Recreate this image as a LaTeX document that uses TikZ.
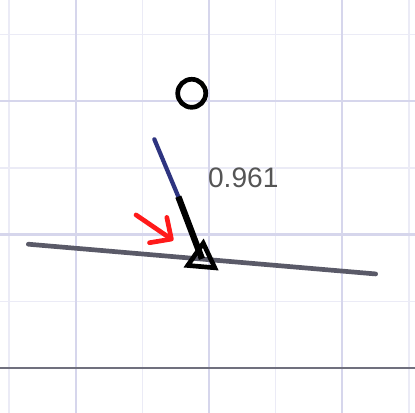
\documentclass[tikz,border=0pt]{standalone}
\usepackage{fontspec}
\setmainfont{Liberation Sans}
\usepackage{xcolor}
\usetikzlibrary{arrows.meta,shapes.geometric}
\definecolor{gridminor}{HTML}{EBEBF6}
\definecolor{gridmajor}{HTML}{D6D6EC}
\definecolor{axisgray}{HTML}{70707E}
\definecolor{surfacegray}{HTML}{5A5A68}
\definecolor{rayblue}{HTML}{2E3480}
\definecolor{labelgray}{HTML}{555555}
\definecolor{hintred}{HTML}{FF1A1A}

\begin{document}
\begin{tikzpicture}[
  minorgrid/.style={draw=gridminor, line width=0.6pt},
  majorgrid/.style={draw=gridmajor, line width=0.9pt},
  axisline/.style={draw=axisgray, line width=1.1pt},
  surface/.style={draw=surfacegray, line width=2pt, line cap=round},
  ray/.style={draw=rayblue, line width=1.8pt, line cap=round},
  normalseg/.style={draw=black, line width=2.7pt},
  hint/.style={draw=hintred, line width=2pt, line cap=round,
    -{Straight Barb[round, length=2.4mm, width=4.6mm]}},
  marker/.style={draw=black, line width=2pt, regular polygon,
    regular polygon sides=3, minimum size=0.47cm, inner sep=0pt},
  source/.style={draw=black, line width=2pt, circle,
    minimum size=0.42cm, inner sep=0pt},
  valuelabel/.style={text=labelgray, font=\fontsize{12}{14}\selectfont}
]
  \useasboundingbox[fill=white] (-3.134,-0.675) rectangle (3.089,5.517);

  % grid
  \foreach \x in {-3,-1,1,3}
    \path[minorgrid] (\x,-0.675) -- (\x,5.517);
  \foreach \y in {1,3,5}
    \path[minorgrid] (-3.134,\y) -- (3.089,\y);
  \foreach \x in {-2,0,2}
    \path[majorgrid] (\x,-0.675) -- (\x,5.517);
  \foreach \y in {2,4}
    \path[majorgrid] (-3.134,\y) -- (3.089,\y);
  \path[axisline] (-3.134,0) -- (3.089,0);

  \coordinate (surfL) at (-2.709,1.855);
  \coordinate (surfR) at (2.499,1.409);
  \coordinate (raystart) at (-0.820,3.429);
  \coordinate (kink) at (-0.460,2.568);
  \coordinate (hintstart) at (-1.094,2.294);
  \coordinate (hintend) at (-0.535,1.912);

  \node[source] (emitter) at (-0.259,4.118) {};
  \path[surface] (surfL) -- (surfR);
  \node[marker, rotate=-4.9] (contact) at (-0.106,1.636) {};
  \path[ray] (raystart) -- (kink);
  \path[normalseg] (kink) -- (contact.center);
  \path[hint] (hintstart) -- (hintend);
  \node[valuelabel] (value) at (0.514,2.844) {0.961};
\end{tikzpicture}
\end{document}
